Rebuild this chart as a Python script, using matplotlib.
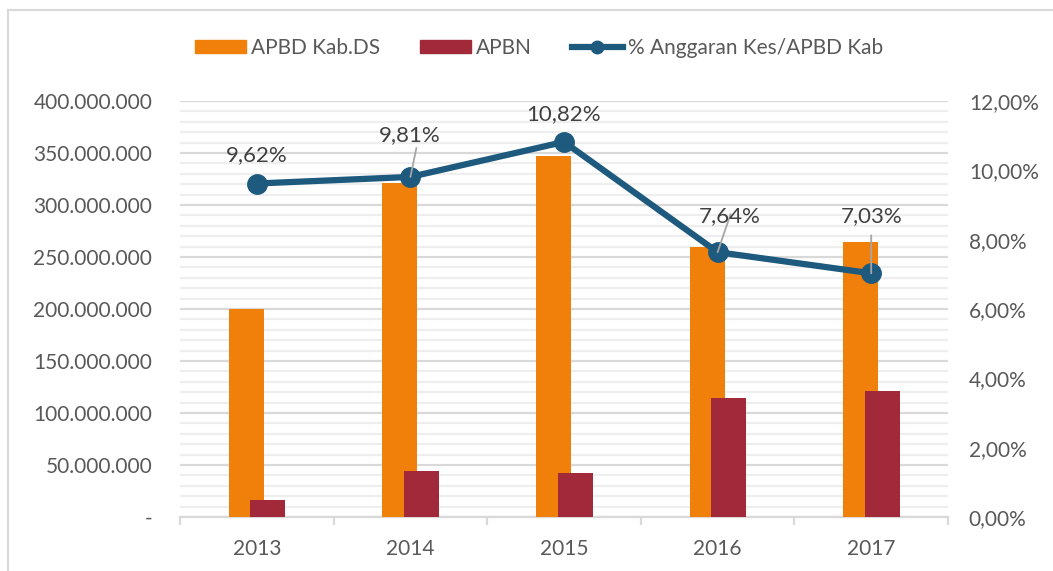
import matplotlib
matplotlib.use("Agg")
import matplotlib.pyplot as plt
from matplotlib.patches import Rectangle
from matplotlib.lines import Line2D
from matplotlib.ticker import FixedLocator, MultipleLocator, FuncFormatter
import numpy as np

years = ["2013", "2014", "2015", "2016", "2017"]
apbd = [200_000_000, 321_000_000, 347_000_000, 260_000_000, 264_000_000]
apbn = [16_000_000, 44_000_000, 42_000_000, 114_000_000, 121_000_000]
pct = [0.0962, 0.0981, 0.1082, 0.0764, 0.0703]
pct_labels = ["9,62%", "9,81%", "10,82%", "7,64%", "7,03%"]
series_names = ["APBD Kab.DS", "APBN", "% Anggaran Kes/APBD Kab"]

C_ORANGE = "#F0800A"
C_RED = "#A1293A"
C_BLUE = "#1D5A7E"
C_TEXT = "#595959"

plt.rcParams["font.family"] = ["Lato", "DejaVu Sans"]
FS = 15

W, H = 1053, 571
fig = plt.figure(figsize=(W / 100, H / 100), dpi=100)
ax = fig.add_axes([180 / W, 1 - 517 / H, (948 - 180) / W, (517 - 101) / H])
ax2 = ax.twinx()

x = np.arange(len(years))
bw = 0.228
ax.bar(x - 0.068, apbd, width=bw, color=C_ORANGE, zorder=3)
ax.bar(x + 0.072, apbn, width=bw, color=C_RED, zorder=4)

ax.set_xlim(-0.5, len(years) - 0.5)
ax.set_ylim(0, 400_000_000)
ax.yaxis.set_major_locator(MultipleLocator(50_000_000))
ax.yaxis.set_minor_locator(MultipleLocator(10_000_000))

def fmt_left(v, pos):
    if v == 0:
        return "-"
    return f"{int(round(v)):,}".replace(",", ".")

ax.yaxis.set_major_formatter(FuncFormatter(fmt_left))
ax.grid(axis="y", which="minor", color="#EEEEEE", lw=1.6, zorder=0)
ax.grid(axis="y", which="major", color="#D9D9D9", lw=1.6, zorder=1)
ax.set_axisbelow(True)

for s in ["left", "right", "top"]:
    ax.spines[s].set_visible(False)
    ax2.spines[s].set_visible(False)
ax2.spines["bottom"].set_visible(False)
ax.spines["bottom"].set_color("#D9D9D9")
ax.spines["bottom"].set_linewidth(1.6)

ax.set_xticks(x)
ax.set_xticklabels(years)
ax.xaxis.set_minor_locator(FixedLocator(np.arange(-0.5, len(years), 1.0)))
ax.tick_params(axis="x", which="major", length=0, pad=16, labelsize=FS, labelcolor=C_TEXT)
ax.tick_params(axis="x", which="minor", length=6, width=1.6, color="#D9D9D9")
ax.tick_params(axis="y", which="both", length=0, pad=20, labelsize=FS, labelcolor=C_TEXT)

ax2.set_ylim(0, 0.12)
ax2.yaxis.set_major_locator(MultipleLocator(0.02))
ax2.yaxis.set_major_formatter(FuncFormatter(lambda v, p: f"{v*100:.2f}%".replace(".", ",")))
ax2.tick_params(axis="y", length=0, pad=15, labelsize=FS, labelcolor=C_TEXT)
ax2.plot(x, pct, color=C_BLUE, lw=4.5, marker="o", markersize=14, zorder=5)

# data labels (offsets in pixels: dx, dy of text centre from marker)
offsets = [(0, 28), (-1, 42), (0, 28), (12, 36), (0, 57)]
leaders = [None, (6, 29), None, (13, 38), (0, 38)]
for i, (lab, (dx, dy)) in enumerate(zip(pct_labels, offsets)):
    ax2.annotate(lab, (x[i], pct[i]), xytext=(dx, dy), textcoords="offset pixels",
                 ha="center", va="center", fontsize=FS + 1, color="#404040", zorder=7)
    if leaders[i] is not None:
        c, d = leaders[i]
        ax2.annotate("", (x[i], pct[i]), xytext=(c, d), textcoords="offset pixels",
                     arrowprops=dict(arrowstyle="-", color="#A6A6A6", lw=1.3,
                                     shrinkA=0, shrinkB=0),
                     zorder=6)

handles = [
    Rectangle((0, 0), 1, 1, color=C_ORANGE),
    Rectangle((0, 0), 1, 1, color=C_RED),
    Line2D([0], [0], color=C_BLUE, lw=4.5, marker="o", markersize=9),
]
leg = fig.legend(handles, series_names, loc="center", bbox_to_anchor=(539 / W, 1 - 48 / H),
                 ncol=3, frameon=False, fontsize=FS, handlelength=2.45, handleheight=0.62,
                 columnspacing=1.9, handletextpad=0.24)
for t in leg.get_texts():
    t.set_color(C_TEXT)

# outer border
fig.patches.append(Rectangle((8 / W, -0.05), 1.1, 1.05 - 10 / H,
                             transform=fig.transFigure, fill=False,
                             edgecolor="#D9D9D9", lw=1.5))

fig.savefig("out.png", dpi=100)
